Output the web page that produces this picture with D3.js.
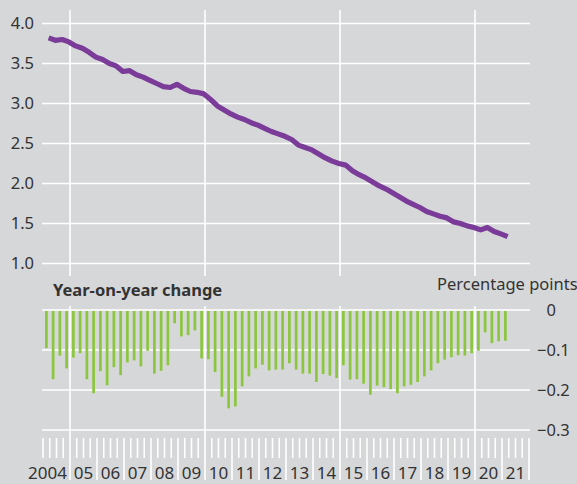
<!DOCTYPE html>
<html><head><meta charset="utf-8">
<script src="https://cdn.jsdelivr.net/npm/d3@7"></script>
<style>
html,body{margin:0;padding:0;background:#d6d7d9;}
svg{display:block;}
text{font-family:"Noto Sans",sans-serif;fill:#333;}
</style></head><body>
<svg id="chart" width="577" height="484"></svg>
<script>
// x-axis labels, one per year 2004..2021
const yearLabels = ["2004","05","06","07","08","09","10","11","12","13","14","15","16","17","18","19","20","21"];
const firstYear = 2004;
const lastYearEnd = 2022;
const gridYears = [2005, 2010, 2015, 2020];

// Level (per cent), quarterly 2004Q1 .. 2021Q1
const levelValues = [
  3.82, 3.79, 3.80, 3.77,   // 2004
  3.72, 3.69, 3.64, 3.58,   // 2005
  3.55, 3.50, 3.47, 3.40,   // 2006
  3.41, 3.36, 3.33, 3.29,   // 2007
  3.25, 3.21, 3.20, 3.24,   // 2008
  3.19, 3.15, 3.14, 3.12,   // 2009
  3.05, 2.97, 2.92, 2.87,   // 2010
  2.83, 2.80, 2.76, 2.73,   // 2011
  2.69, 2.65, 2.62, 2.59,   // 2012
  2.55, 2.48, 2.45, 2.42,   // 2013
  2.37, 2.32, 2.28, 2.25,   // 2014
  2.23, 2.16, 2.11, 2.07,   // 2015
  2.02, 1.97, 1.93, 1.88,   // 2016
  1.83, 1.78, 1.74, 1.70,   // 2017
  1.65, 1.62, 1.59, 1.57,   // 2018
  1.52, 1.50, 1.47, 1.45,   // 2019
  1.42, 1.45, 1.40, 1.37,   // 2020
  1.335                     // 2021
];

// Year-on-year change (percentage points), quarterly 2004Q1 .. 2021Q1
const changeValues = [
  -0.095, -0.173, -0.114, -0.146,  // 2004
  -0.119, -0.108, -0.173, -0.208,  // 2005
  -0.153, -0.188, -0.143, -0.163,  // 2006
  -0.131, -0.126, -0.141, -0.102,  // 2007
  -0.159, -0.152, -0.138, -0.033,  // 2008
  -0.066, -0.063, -0.051, -0.121,  // 2009
  -0.123, -0.155, -0.217, -0.246,  // 2010
  -0.241, -0.191, -0.166, -0.146,  // 2011
  -0.137, -0.151, -0.149, -0.149,  // 2012
  -0.133, -0.149, -0.159, -0.159,  // 2013
  -0.180, -0.160, -0.164, -0.170,  // 2014
  -0.138, -0.174, -0.173, -0.184,  // 2015
  -0.212, -0.189, -0.193, -0.198,  // 2016
  -0.208, -0.191, -0.187, -0.180,  // 2017
  -0.166, -0.151, -0.133, -0.124,  // 2018
  -0.118, -0.113, -0.114, -0.108,  // 2019
  -0.102, -0.056, -0.083, -0.078,  // 2020
  -0.077                           // 2021
];

const levelTicks = [1.0, 1.5, 2.0, 2.5, 3.0, 3.5, 4.0];
const changeTicks = [0, -0.1, -0.2, -0.3];

const svg = d3.select("#chart");
const W = 577, H = 484;
svg.append("rect").attr("width", W).attr("height", H).attr("fill", "#d6d7d9");

const x = d3.scaleLinear().domain([firstYear, lastYearEnd]).range([43, 529]);
const yTop = d3.scaleLinear().domain([1, 4]).range([263.5, 23.5]);
const yBot = d3.scaleLinear().domain([-0.3, 0]).range([430, 310]);

const gridL = x.range()[0] - 1, gridR = x.range()[1] + 1;
const grid = "#ffffff";

const periods = levelValues.map((v, i) => ({ year: firstYear + Math.floor(i / 4), q: (i % 4) + 1 }));

// ---------- Top panel ----------
const gTop = svg.append("g");
gTop.selectAll("line.h").data(levelTicks).join("line")
  .attr("x1", gridL).attr("x2", gridR)
  .attr("y1", d => yTop(d)).attr("y2", d => yTop(d))
  .attr("stroke", grid).attr("stroke-width", 1.6);
gTop.selectAll("line.v").data(gridYears).join("line")
  .attr("x1", d => x(d)).attr("x2", d => x(d))
  .attr("y1", yTop(4) - 13.5).attr("y2", yTop(1) + 12.5)
  .attr("stroke", grid).attr("stroke-width", 1.6);
gTop.selectAll("text.yl").data(levelTicks).join("text")
  .attr("x", 34).attr("y", d => yTop(d)).attr("dy", "0.36em")
  .attr("text-anchor", "end").style("font-size", "16.5px")
  .text(d => d3.format(".1f")(d));

const line = d3.line()
  .x((v, i) => x(periods[i].year + (3 * periods[i].q - 0.5) / 12))
  .y(v => yTop(v));
gTop.append("path").datum(levelValues)
  .attr("d", line).attr("fill", "none")
  .attr("stroke", "#7b3c99").attr("stroke-width", 5.2)
  .attr("stroke-linejoin", "round");

// ---------- Bottom panel ----------
const gBot = svg.append("g");
gBot.selectAll("line.h").data(changeTicks).join("line")
  .attr("x1", gridL).attr("x2", gridR)
  .attr("y1", d => yBot(d)).attr("y2", d => yBot(d))
  .attr("stroke", grid).attr("stroke-width", 1.6);
gBot.selectAll("line.v").data(gridYears).join("line")
  .attr("x1", d => x(d)).attr("x2", d => x(d))
  .attr("y1", yBot(0) - 4).attr("y2", 480)
  .attr("stroke", grid).attr("stroke-width", 1.6);

const qStep = x(firstYear + 0.25) - x(firstYear);
const barW = qStep * 0.4;
gBot.selectAll("rect.bar").data(changeValues).join("rect")
  .attr("x", (v, i) => x(periods[i].year + (3 * periods[i].q - 1.5) / 12) - barW / 2)
  .attr("y", yBot(0) + 1)
  .attr("width", barW)
  .attr("height", v => Math.max(0, yBot(v) - yBot(0) - 1))
  .attr("fill", "#8cc63f");

// right axis labels aligned on the decimal point
const rl = gBot.selectAll("text.rl").data(changeTicks).join("text")
  .attr("x", 537).attr("y", d => yBot(d)).attr("dy", "0.36em")
  .style("font-size", "16.5px");
rl.append("tspan").attr("fill-opacity", d => d === 0 ? 0 : 1).text("\u2212");
rl.append("tspan").text(d => d === 0 ? "0" : d3.format(".1f")(Math.abs(d)));

svg.append("text").attr("x", 53).attr("y", 296)
  .style("font-size", "16.5px").style("font-weight", "bold")
  .text("Year-on-year change");
svg.append("text").attr("x", 437).attr("y", 290)
  .style("font-size", "16.5px")
  .text("Percentage points");

// ---------- x axis ticks and labels ----------
const qTicks = d3.range(firstYear * 4, lastYearEnd * 4 + 1).map(k => k / 4);
const gX = svg.append("g");
gX.selectAll("line.t").data(qTicks.filter(t => !gridYears.includes(t))).join("line")
  .attr("x1", d => x(d)).attr("x2", d => x(d))
  .attr("y1", 438)
  .attr("y2", d => (Number.isInteger(d) && d !== firstYear) ? 480 : 458)
  .attr("stroke", grid).attr("stroke-width", 1.6);
gX.selectAll("text.xl").data(yearLabels).join("text")
  .attr("x", (d, i) => i === 0 ? x(firstYear + 1) - 3 : x(firstYear + i + 0.5))
  .attr("y", 479)
  .attr("text-anchor", (d, i) => i === 0 ? "end" : "middle")
  .style("font-size", "17px")
  .text(d => d);
</script>
</body></html>
